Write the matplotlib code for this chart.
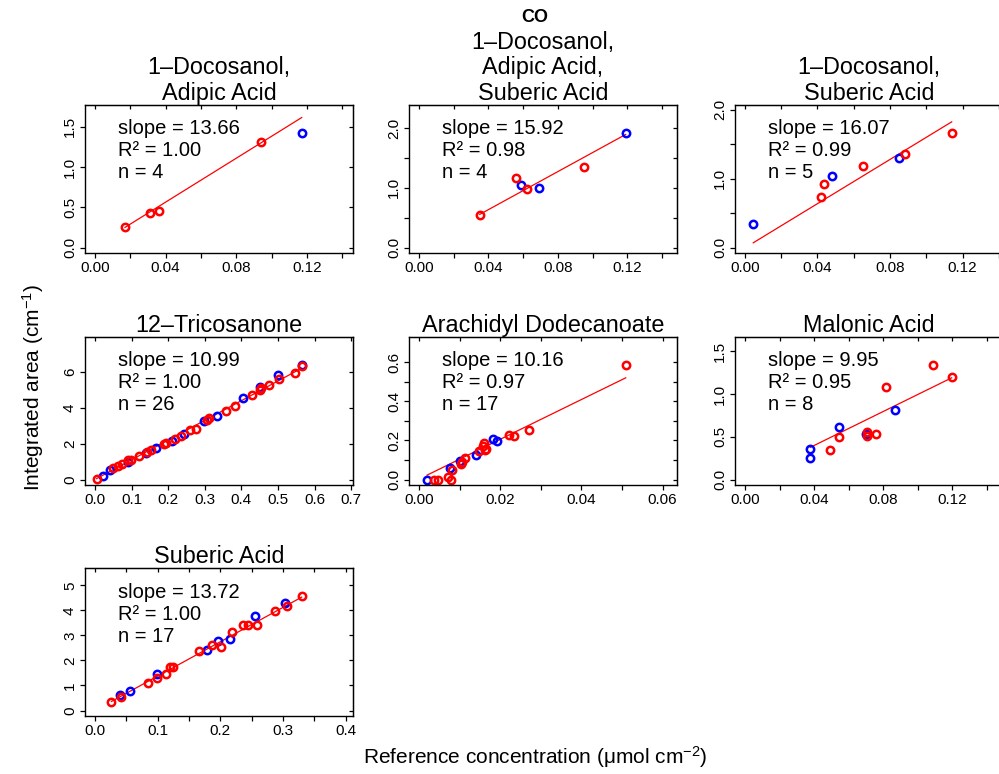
import numpy as np
import matplotlib
matplotlib.use("Agg")
import matplotlib.pyplot as plt

plt.rcParams['font.family'] = ['Liberation Sans', 'DejaVu Sans']
plt.rcParams['mathtext.fontset'] = 'custom'
plt.rcParams['mathtext.rm'] = 'Liberation Sans'
plt.rcParams['mathtext.default'] = 'regular'

#====== panel titles ======
titles = ["1\u2013Docosanol,\nAdipic Acid",
          "1\u2013Docosanol,\nAdipic Acid,\nSuberic Acid",
          "1\u2013Docosanol,\nSuberic Acid",
          "12\u2013Tricosanone",
          "Arachidyl Dodecanoate",
          "Malonic Acid",
          "Suberic Acid"]

#====== fit results shown in each panel ======
slopes     = [13.66, 15.92, 16.07, 10.99, 10.16, 9.95, 13.72]
intercepts = [0.018, -0.003, -0.005, 0.0, 0.002, 0.0, 0.0]
r2         = [1.00, 0.98, 0.99, 1.00, 0.97, 0.95, 1.00]
n_pts      = [4, 4, 5, 26, 17, 8, 17]

#====== 1-Docosanol, Adipic Acid ======
p1_red_x  = [0.017, 0.031, 0.036, 0.094]
p1_red_y  = [0.25, 0.43, 0.45, 1.31]
p1_blue_x = [0.117]
p1_blue_y = [1.42]

#====== 1-Docosanol, Adipic Acid, Suberic Acid ======
p2_red_x  = [0.035, 0.056, 0.062, 0.095]
p2_red_y  = [0.55, 1.17, 0.98, 1.35]
p2_blue_x = [0.059, 0.069, 0.119]
p2_blue_y = [1.05, 1.00, 1.91]

#====== 1-Docosanol, Suberic Acid ======
p3_red_x  = [0.042, 0.0436, 0.065, 0.088, 0.114]
p3_red_y  = [0.73, 0.93, 1.19, 1.36, 1.66]
p3_blue_x = [0.0046, 0.048, 0.085]
p3_blue_y = [0.34, 1.04, 1.30]

#====== 12-Tricosanone ======
p4_red_x  = [0.0045, 0.050, 0.064, 0.073, 0.091, 0.098, 0.120, 0.143, 0.152,
             0.188, 0.195, 0.218, 0.236, 0.261, 0.275, 0.305, 0.312, 0.359,
             0.382, 0.430, 0.452, 0.455, 0.475, 0.502, 0.546, 0.565]
p4_red_y  = [0.055, 0.65, 0.76, 0.89, 1.07, 1.10, 1.31, 1.53, 1.62,
             1.99, 2.05, 2.27, 2.45, 2.77, 2.84, 3.32, 3.43, 3.84,
             4.11, 4.70, 4.98, 5.10, 5.28, 5.59, 5.92, 6.31]
p4_blue_x = [0.023, 0.041, 0.091, 0.139, 0.168, 0.210, 0.244, 0.297, 0.334,
             0.404, 0.450, 0.500, 0.565]
p4_blue_y = [0.20, 0.55, 0.98, 1.48, 1.75, 2.14, 2.55, 3.28, 3.52,
             4.52, 5.17, 5.81, 6.37]

#====== Arachidyl Dodecanoate ======
p5_red_x  = [0.0037, 0.0047, 0.0071, 0.0078, 0.0082, 0.0104, 0.0105, 0.0114,
             0.0149, 0.0158, 0.0159, 0.0162, 0.0164, 0.0222, 0.0235, 0.0271, 0.0509]
p5_red_y  = [0.0, 0.0, 0.014, 0.0, 0.05, 0.081, 0.09, 0.11,
             0.146, 0.17, 0.186, 0.15, 0.158, 0.229, 0.222, 0.251, 0.583]
p5_blue_x = [0.002, 0.0077, 0.0102, 0.0141, 0.0182, 0.0191]
p5_blue_y = [0.0, 0.061, 0.093, 0.124, 0.208, 0.197]

#====== Malonic Acid ======
p6_red_x  = [0.049, 0.0543, 0.0705, 0.0705, 0.076, 0.0816, 0.1085, 0.1196]
p6_red_y  = [0.343, 0.499, 0.557, 0.506, 0.530, 1.083, 1.336, 1.20]
p6_blue_x = [0.0378, 0.0378, 0.0543, 0.0701, 0.0868]
p6_blue_y = [0.354, 0.253, 0.612, 0.530, 0.810]

#====== Suberic Acid ======
p7_red_x  = [0.0264, 0.0422, 0.0844, 0.0987, 0.113, 0.120, 0.124, 0.166, 0.187,
             0.201, 0.219, 0.237, 0.245, 0.259, 0.287, 0.307, 0.330]
p7_red_y  = [0.36, 0.53, 1.09, 1.29, 1.46, 1.72, 1.75, 2.39, 2.60,
             2.52, 3.14, 3.41, 3.42, 3.42, 3.97, 4.16, 4.56]
p7_blue_x = [0.0406, 0.0565, 0.0992, 0.179, 0.197, 0.216, 0.255, 0.303]
p7_blue_y = [0.62, 0.76, 1.45, 2.41, 2.79, 2.84, 3.77, 4.30]

#====== axis ticks (blank label = tick only) ======
xticks = [np.arange(0, 0.141, 0.02), np.arange(0, 0.141, 0.02), np.arange(0, 0.141, 0.02),
          np.arange(0, 0.71, 0.1), np.arange(0, 0.061, 0.01), np.arange(0, 0.141, 0.02),
          np.arange(0, 0.41, 0.05)]
xlabels = [["0.00", "", "0.04", "", "0.08", "", "0.12", ""]] * 3 + \
          [["0.0", "0.1", "0.2", "0.3", "0.4", "0.5", "0.6", "0.7"],
           ["0.00", "", "0.02", "", "0.04", "", "0.06"],
           ["0.00", "", "0.04", "", "0.08", "", "0.12", ""],
           ["0.0", "", "0.1", "", "0.2", "", "0.3", "", "0.4"]]
yticks = [[0, 0.5, 1.0, 1.5], [0, 0.5, 1.0, 1.5, 2.0], [0, 0.5, 1.0, 1.5, 2.0],
          [0, 2, 4, 6], np.arange(0, 0.61, 0.1), [0, 0.5, 1.0, 1.5], [0, 1, 2, 3, 4, 5]]
ylabels = [["0.0", "0.5", "1.0", "1.5"],
           ["0.0", "", "1.0", "", "2.0"],
           ["0.0", "", "1.0", "", "2.0"],
           ["0", "2", "4", "6"],
           ["0.0", "", "0.2", "", "0.4", "", "0.6"],
           ["0.0", "0.5", "1.0", "1.5"],
           ["0", "1", "2", "3", "4", "5"]]

panels = [(p1_red_x, p1_red_y, p1_blue_x, p1_blue_y),
          (p2_red_x, p2_red_y, p2_blue_x, p2_blue_y),
          (p3_red_x, p3_red_y, p3_blue_x, p3_blue_y),
          (p4_red_x, p4_red_y, p4_blue_x, p4_blue_y),
          (p5_red_x, p5_red_y, p5_blue_x, p5_blue_y),
          (p6_red_x, p6_red_y, p6_blue_x, p6_blue_y),
          (p7_red_x, p7_red_y, p7_blue_x, p7_blue_y)]

W_PX, H_PX = 999, 774
col_left = [85, 409, 735]
row_top = [105, 337, 568]
box_w, box_h = 268, 148
px = 0.72  # points per pixel at dpi 100

fig = plt.figure(figsize=(W_PX / 100, H_PX / 100), dpi=100)

for k, (rx, ry, bx, by) in enumerate(panels):
    col, row = k % 3, k // 3
    ax = fig.add_axes([col_left[col] / W_PX, 1 - (row_top[row] + box_h) / H_PX,
                       box_w / W_PX, box_h / H_PX])

    all_x = np.array(rx + bx)
    all_y = np.array(ry + by)
    xhi = 1.2 * all_x.max()
    yhi = 1.2 * all_y.max()
    ax.set_xlim(-0.04 * xhi, 1.04 * xhi)
    ax.set_ylim(-0.04 * yhi, 1.04 * yhi)

    # fitted line over the full x range
    xs = np.array([all_x.min(), all_x.max()])
    ax.plot(xs, intercepts[k] + slopes[k] * xs, color='red', lw=0.9)

    ax.plot(bx, by, 'o', mfc='none', mec='blue', ms=5.3, mew=1.8, ls='none')
    ax.plot(rx, ry, 'o', mfc='none', mec='red', ms=5.3, mew=1.8, ls='none')

    lines = ["slope = %.2f" % slopes[k], "R\u00b2 = %.2f" % r2[k], "n = %d" % n_pts[k]]
    for i, s in enumerate(lines):
        ax.annotate(s, xy=(0, 1), xycoords='axes fraction',
                    xytext=(33 * px, -(24 + 22 * i) * px), textcoords='offset points',
                    ha='left', va='center', fontsize=14.5)

    ax.set_title(titles[k], fontsize=16.8, pad=2.0, linespacing=1.15)

    ax.set_xticks(xticks[k])
    ax.set_xticklabels(xlabels[k])
    ax.set_yticks(yticks[k])
    ax.set_yticklabels(ylabels[k], rotation=90, va='center')
    ax.tick_params(direction='out', length=3.5, width=0.9, labelsize=11, pad=2.2)
    for sp in ax.spines.values():
        sp.set_linewidth(1.0)

    # inward ticks on top and right, no labels
    top = ax.secondary_xaxis('top')
    top.set_xticks(xticks[k])
    top.tick_params(direction='in', length=3.0, width=0.9, labeltop=False)
    right = ax.secondary_yaxis('right')
    right.set_yticks(yticks[k])
    right.tick_params(direction='in', length=3.0, width=0.9, labelright=False)

fig.text(535 / W_PX, 1 - 17 / H_PX, "CO", ha='center', va='center',
         fontsize=13, fontweight='bold')
fig.text(535 / W_PX, 1 - 757 / H_PX, "Reference concentration (\u03bcmol cm$^{-2}$)",
         ha='center', va='center', fontsize=15)
fig.text(33 / W_PX, 1 - 387 / H_PX, "Integrated area (cm$^{-1}$)",
         ha='center', va='center', rotation=90, fontsize=15)

fig.savefig("out.png", dpi=100)
